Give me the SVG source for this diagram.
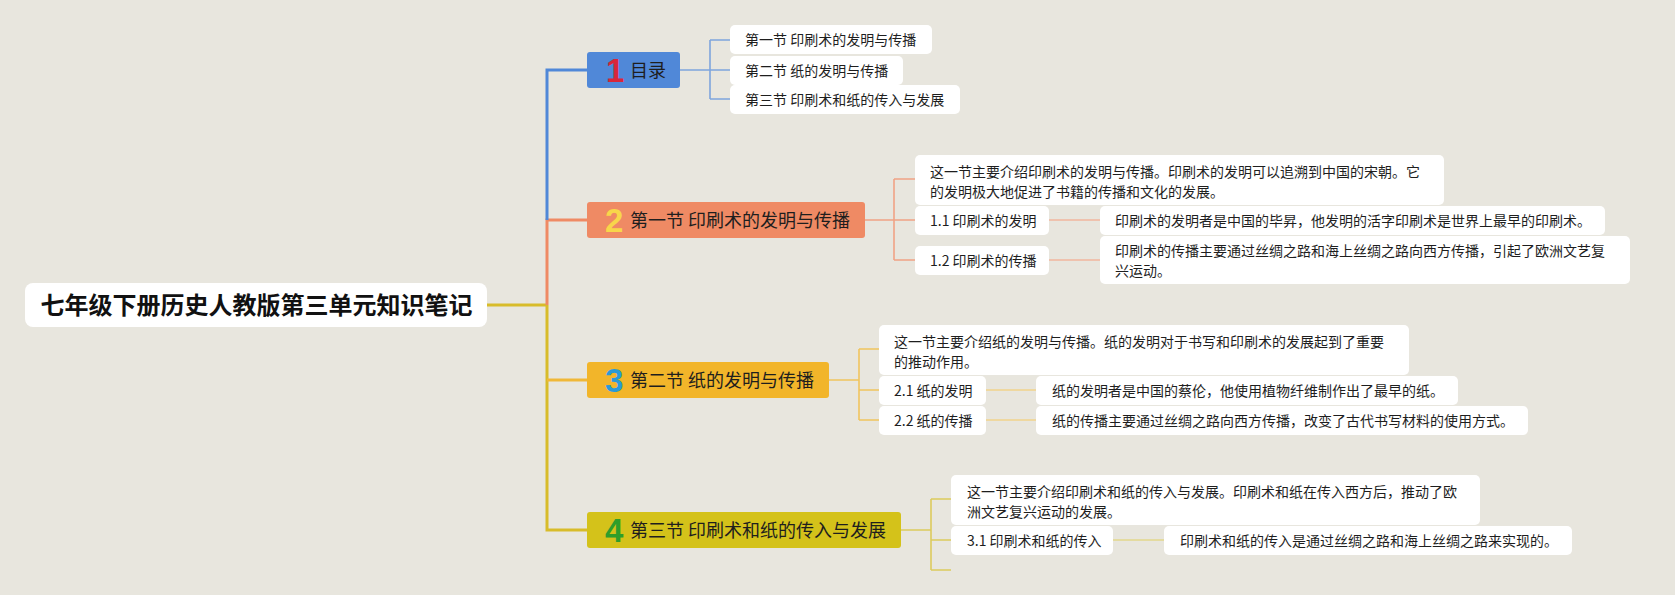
<svg xmlns="http://www.w3.org/2000/svg" width="1675" height="595" viewBox="0 0 1675 595">
<style>
.bg{fill:#e8e6de}
.card{fill:#ffffff}
.t{font-family:"Noto Sans CJK SC","Noto Sans",sans-serif;font-size:14px;fill:#1e1e1e}
.nt{font-family:"Noto Sans CJK SC","Noto Sans",sans-serif;font-size:18px;fill:#1e1e1e}
.rt{font-family:"Noto Sans CJK SC","Noto Sans",sans-serif;font-size:24px;font-weight:bold;fill:#111111}
.num{font-family:"Liberation Sans","DejaVu Sans",sans-serif;font-size:33px;font-weight:bold}
.trunk{fill:none;stroke-width:3}
.br{fill:none;stroke-width:1.6}
.dl{fill:none;stroke-width:2}
</style>
<rect class="bg" x="0" y="0" width="1675" height="595"/>

<g id="connectors">
  <path class="trunk" d="M487,305 H547" stroke="#d8bc2a"/>
  <path class="trunk" d="M547,305 V530 H587" stroke="#d8bc2a"/>
  <path class="trunk" d="M547,380 H587" stroke="#f0b838"/>
  <path class="trunk" d="M547,305 V220 H587" stroke="#ef8a64"/>
  <path class="trunk" d="M547,220 V70 H587" stroke="#5088d8"/>
  <!-- node 1 bracket -->
  <path class="br" stroke="#7ea5dd" d="M680,70 H710 M710,40 V99 M710,40 H730 M710,70 H730 M710,99 H730"/>
  <!-- node 2 bracket -->
  <path class="br" stroke="#f0a385" d="M865,220 H894 M894,179 V260 M894,179 H915 M894,220 H915 M894,260 H915"/>
  <path class="dl" stroke="#efc2ae" d="M1049,220 H1100 M1049,260 H1100"/>
  <!-- node 3 bracket -->
  <path class="br" stroke="#f0c55e" d="M829,380 H859 M859,349 V420 M859,349 H879 M859,390 H879 M859,420 H879"/>
  <path class="dl" stroke="#efd8a0" d="M986,390 H1036 M986,420 H1036"/>
  <!-- node 4 bracket -->
  <path class="br" stroke="#dccb5c" d="M901,530 H931 M931,499 V570 M931,499 H951 M931,540 H951 M931,570 H951"/>
  <path class="dl" stroke="#e4dba0" d="M1113,540 H1164"/>
</g>

<g id="root">
  <rect class="card" x="25" y="283" width="462" height="44" rx="8"/>
  <text class="rt" x="256.5" y="314" text-anchor="middle">七年级下册历史人教版第三单元知识笔记</text>
</g>

<g id="node1">
  <rect x="587" y="52" width="93" height="36" rx="3" fill="#5088d8"/>
  <text class="num" x="606" y="82" fill="#d8263a">1</text>
  <text class="nt" x="630" y="76.8">目录</text>
</g>
<g id="node1-a">
  <rect class="card" x="730" y="25" width="202" height="29" rx="5"/>
  <text class="t" x="745" y="45">第一节 印刷术的发明与传播</text>
</g>
<g id="node1-b">
  <rect class="card" x="730" y="56" width="173" height="29" rx="5"/>
  <text class="t" x="745" y="75.8">第二节 纸的发明与传播</text>
</g>
<g id="node1-c">
  <rect class="card" x="730" y="85" width="230" height="29" rx="5"/>
  <text class="t" x="745" y="104.8">第三节 印刷术和纸的传入与发展</text>
</g>

<g id="node2">
  <rect x="587" y="202" width="278" height="36" rx="3" fill="#ef8a64"/>
  <text class="num" x="605" y="232" fill="#f8d64a">2</text>
  <text class="nt" x="630" y="226.8">第一节 印刷术的发明与传播</text>
</g>
<g id="node2-desc">
  <rect class="card" x="915" y="155" width="529" height="50" rx="5"/>
  <text class="t" x="930" y="177">这一节主要介绍印刷术的发明与传播。印刷术的发明可以追溯到中国的宋朝。它</text>
  <text class="t" x="930" y="197">的发明极大地促进了书籍的传播和文化的发展。</text>
</g>
<g id="node2-1">
  <rect class="card" x="915" y="206" width="134" height="29" rx="5"/>
  <text class="t" x="930" y="225.5">1.1 印刷术的发明</text>
</g>
<g id="node2-2">
  <rect class="card" x="915" y="246" width="134" height="29" rx="5"/>
  <text class="t" x="930" y="265.5">1.2 印刷术的传播</text>
</g>
<g id="node2-1-d">
  <rect class="card" x="1100" y="206" width="505" height="29" rx="5"/>
  <text class="t" x="1115" y="225.5">印刷术的发明者是中国的毕昇，他发明的活字印刷术是世界上最早的印刷术。</text>
</g>
<g id="node2-2-d">
  <rect class="card" x="1100" y="236" width="530" height="48" rx="5"/>
  <text class="t" x="1115" y="255.5">印刷术的传播主要通过丝绸之路和海上丝绸之路向西方传播，引起了欧洲文艺复</text>
  <text class="t" x="1115" y="275.5">兴运动。</text>
</g>

<g id="node3">
  <rect x="587" y="362" width="242" height="36" rx="3" fill="#f2b52a"/>
  <text class="num" x="605" y="392" fill="#2a9ad6">3</text>
  <text class="nt" x="630" y="386.8">第二节 纸的发明与传播</text>
</g>
<g id="node3-desc">
  <rect class="card" x="879" y="325" width="530" height="50" rx="5"/>
  <text class="t" x="894" y="347">这一节主要介绍纸的发明与传播。纸的发明对于书写和印刷术的发展起到了重要</text>
  <text class="t" x="894" y="367">的推动作用。</text>
</g>
<g id="node3-1">
  <rect class="card" x="879" y="376" width="107" height="29" rx="5"/>
  <text class="t" x="894" y="395.5">2.1 纸的发明</text>
</g>
<g id="node3-2">
  <rect class="card" x="879" y="406" width="107" height="29" rx="5"/>
  <text class="t" x="894" y="425.5">2.2 纸的传播</text>
</g>
<g id="node3-1-d">
  <rect class="card" x="1036" y="376" width="422" height="29" rx="5"/>
  <text class="t" x="1052" y="395.5">纸的发明者是中国的蔡伦，他使用植物纤维制作出了最早的纸。</text>
</g>
<g id="node3-2-d">
  <rect class="card" x="1036" y="406" width="492" height="29" rx="5"/>
  <text class="t" x="1052" y="425.5">纸的传播主要通过丝绸之路向西方传播，改变了古代书写材料的使用方式。</text>
</g>

<g id="node4">
  <rect x="587" y="512" width="314" height="36" rx="3" fill="#d4c21a"/>
  <text class="num" x="605" y="542" fill="#2f9e2a">4</text>
  <text class="nt" x="630" y="536.8">第三节 印刷术和纸的传入与发展</text>
</g>
<g id="node4-desc">
  <rect class="card" x="951" y="475" width="529" height="50" rx="5"/>
  <text class="t" x="967" y="497">这一节主要介绍印刷术和纸的传入与发展。印刷术和纸在传入西方后，推动了欧</text>
  <text class="t" x="967" y="517">洲文艺复兴运动的发展。</text>
</g>
<g id="node4-1">
  <rect class="card" x="951" y="526" width="162" height="29" rx="5"/>
  <text class="t" x="967" y="545.5">3.1 印刷术和纸的传入</text>
</g>
<g id="node4-1-d">
  <rect class="card" x="1164" y="526" width="408" height="29" rx="5"/>
  <text class="t" x="1180" y="545.5">印刷术和纸的传入是通过丝绸之路和海上丝绸之路来实现的。</text>
</g>
</svg>
